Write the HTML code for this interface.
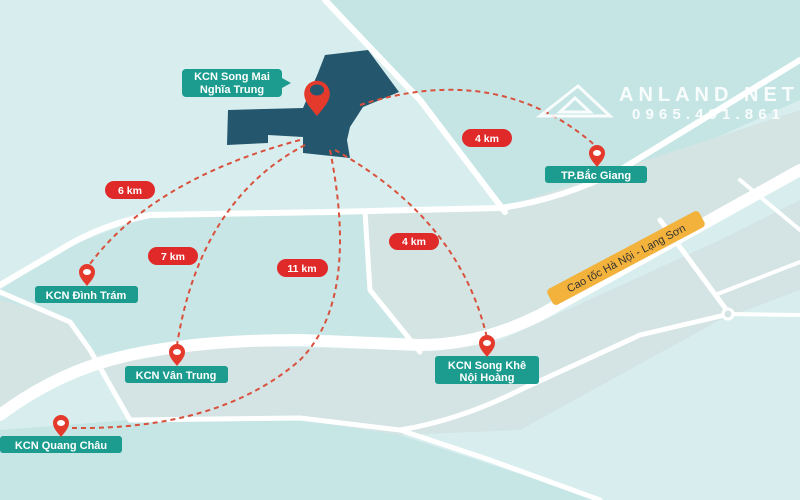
<!DOCTYPE html>
<html><head><meta charset="utf-8"><style>
html,body{margin:0;padding:0;width:800px;height:500px;overflow:hidden;background:#d5ecec}
svg{display:block}
text{font-family:"Liberation Sans",sans-serif;font-weight:bold}
</style></head><body>
<svg width="800" height="500" viewBox="0 0 800 500" xmlns="http://www.w3.org/2000/svg">
<rect width="800" height="500" fill="#d8eeee"/>
<polygon points="330,0 800,0 800,100 600,190 500,210 420,100" fill="#c5e5e5"/>
<polygon points="0,290 60,250 150,215 330,212 365,212 370,290 420,350 200,340 100,355 0,410" fill="#c9e6e6"/>
<polygon points="365,212 500,208 800,110 800,175 490,340 420,350 370,290" fill="#d3e4e3"/>
<polygon points="0,300 70,320 90,350 100,355 0,410" fill="#d3e4e3"/>
<polygon points="100,360 200,345 400,350 490,345 720,240 800,200 800,290 720,320 520,430 400,435 300,420 130,420" fill="#d4e3e3"/>
<polygon points="0,430 130,420 300,420 400,435 600,500 0,500" fill="#c6e5e5"/>
<g fill="none" stroke="#fff" stroke-linecap="round" stroke-linejoin="round">
<path d="M325,0 L420,100 L505,212" stroke-width="6"/>
<path d="M0,285 L60,250 Q100,225 150,215 L330,212 L500,208 Q560,200 620,170 L800,60" stroke-width="6"/>
<path d="M0,415 Q60,370 130,355 Q200,340 300,340 L420,345 Q480,345 540,315 L800,170" stroke-width="12"/>
<path d="M0,292 L70,322 L90,350 L130,420" stroke-width="5"/>
<path d="M365,212 L370,290 L420,352" stroke-width="5"/>
<path d="M130,420 L300,418 L400,430 Q460,420 520,390 L640,335 L725,315" stroke-width="5"/>
<path d="M400,430 L490,460 L600,500" stroke-width="5"/>
<path d="M660,220 L728,312" stroke-width="5"/>
<path d="M715,295 L800,262" stroke-width="4"/>
<path d="M728,314 L800,315" stroke-width="4"/>
<path d="M740,180 L800,230" stroke-width="4"/>
</g>
<circle cx="728" cy="314" r="5" fill="#d4e3e3" stroke="#fff" stroke-width="3"/>
<polygon points="325,55 368,50 399,92 363,107 350,127 347,140 350,158 303,153 303,137 268,135 268,143 227,145 228,110 303,108 318,73" fill="#24566e"/>
<g fill="none" stroke="#d9503c" stroke-width="2" stroke-dasharray="5,4">
<path d="M300,140 Q150,180 87,268"/>
<path d="M305,145 Q200,200 177,345"/>
<path d="M330,150 Q360,300 300,360 Q220,430 72,428"/>
<path d="M335,150 Q460,220 487,338"/>
<path d="M360,105 Q500,60 598,148"/>
</g>
<g fill="#e02a2a">
<rect x="105" y="181" width="50" height="18" rx="9"/>
<rect x="148" y="247" width="50" height="18" rx="9"/>
<rect x="277" y="259" width="51" height="18" rx="9"/>
<rect x="462" y="129" width="50" height="18" rx="9"/>
<rect x="389" y="233" width="50" height="17" rx="8.5"/>
</g>
<g fill="#fff" font-size="10.5" text-anchor="middle">
<text x="130" y="194">6 km</text>
<text x="173" y="260">7 km</text>
<text x="302" y="272">11 km</text>
<text x="487" y="142">4 km</text>
<text x="414" y="245">4 km</text>
</g>
<g fill="#1b9c8f">
<rect x="182" y="69" width="100" height="28" rx="4"/>
<polygon points="282,78 291,83 282,88"/>
<rect x="545" y="166" width="102" height="17" rx="3"/>
<rect x="35" y="286" width="103" height="17" rx="3"/>
<rect x="125" y="366" width="103" height="17" rx="3"/>
<rect x="0" y="436" width="122" height="17" rx="3"/>
<rect x="435" y="356" width="104" height="28" rx="3"/>
</g>
<g fill="#fff" font-size="11" text-anchor="middle">
<text x="232" y="80">KCN Song Mai</text>
<text x="232" y="93">Nghĩa Trung</text>
<text x="596" y="179">TP.Bắc Giang</text>
<text x="86" y="299">KCN Đình Trám</text>
<text x="176" y="379">KCN Vân Trung</text>
<text x="61" y="449">KCN Quang Châu</text>
<text x="487" y="369">KCN Song Khê</text>
<text x="487" y="381">Nội Hoàng</text>
</g>
<g transform="translate(626,258) rotate(-28)">
<rect x="-86" y="-9" width="172" height="18" rx="4" fill="#f2b23c"/>
<text x="0" y="4" font-size="11" fill="#333" text-anchor="middle" style="font-weight:normal">Cao tốc Hà Nội - Lạng Sơn</text>
</g>
<defs>
<path id="pin" d="M0,0 C-4,-5 -8,-9 -8,-14 A8,8 0 1 1 8,-14 C8,-9 4,-5 0,0 Z"/>
</defs>
<g fill="#e43a2c">
<use href="#pin" transform="translate(87,286)"/>
<use href="#pin" transform="translate(177,366)"/>
<use href="#pin" transform="translate(61,437)"/>
<use href="#pin" transform="translate(487,357)"/>
<use href="#pin" transform="translate(597,167)"/>
<use href="#pin" transform="translate(317,116) scale(1.6)"/>
</g>
<g fill="#fff">
<ellipse cx="87" cy="272" rx="4" ry="3"/>
<ellipse cx="177" cy="352" rx="4" ry="3"/>
<ellipse cx="61" cy="423" rx="4" ry="3"/>
<ellipse cx="487" cy="343" rx="4" ry="3"/>
<ellipse cx="597" cy="153" rx="4" ry="3"/>
</g>
<ellipse cx="317" cy="90" rx="7" ry="5.5" fill="#24566e"/>
<g fill="none" stroke="#fff" stroke-width="3" opacity="0.9">
<polygon points="578,86 540,116 610,116"/>
<polygon points="575,98 560,112 590,112"/>
</g>
<text x="619" y="101" font-size="20" fill="#fff" opacity="0.9" font-family="Liberation Serif" textLength="175">ANLAND.NET</text>
<text x="632" y="119" font-size="15" fill="#fff" opacity="0.9" textLength="148">0965.491.861</text>
</svg>
</body></html>
